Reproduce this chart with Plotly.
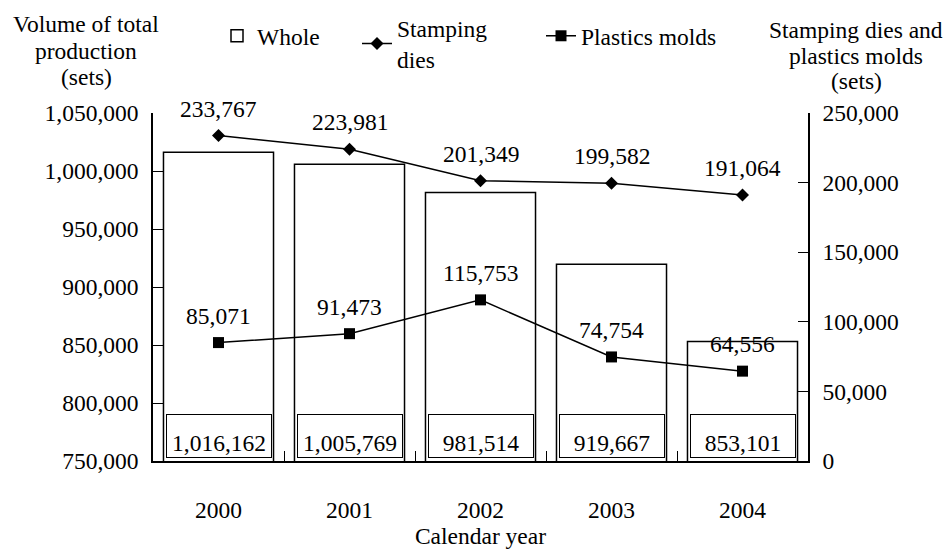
import plotly.graph_objects as go

years = ["2000", "2001", "2002", "2003", "2004"]
whole = [1016162, 1005769, 981514, 919667, 853101]
stamping = [233767, 223981, 201349, 199582, 191064]
plastics = [85071, 91473, 115753, 74754, 64556]

FONT = "Liberation Serif, Times New Roman, serif"
FS = 23.5
TXT = dict(family=FONT, size=FS, color="black")

W, H = 948, 549
ML, MR, MT, MB = 153, 140, 113, 88


def fmt(v):
    return f"{v:,}"


def px_to_paper(xp, yp):
    """Pixel position on the page -> paper coordinates of the plot area."""
    return (xp - ML) / (W - ML - MR), (H - MB - yp) / (H - MT - MB)


fig = go.Figure()

fig.add_trace(go.Bar(
    x=years, y=whole, name="Whole", legend="legend",
    marker=dict(color="white", line=dict(color="black", width=1.5)),
    width=0.84, yaxis="y",
))

fig.add_trace(go.Scatter(
    x=years, y=stamping, name="Stamping<br>dies", yaxis="y2",
    legend="legend2", mode="lines+markers",
    line=dict(color="black", width=1.5),
    marker=dict(symbol="diamond", size=10, color="black"),
))

fig.add_trace(go.Scatter(
    x=years, y=plastics, name="Plastics molds", yaxis="y2",
    legend="legend3", mode="lines+markers",
    line=dict(color="black", width=1.5),
    marker=dict(symbol="square", size=11, color="black"),
))

# value labels above the line markers
for series in (stamping, plastics):
    for i, v in enumerate(series):
        fig.add_annotation(
            x=i, y=v, xref="x", yref="y2", yshift=27,
            text=fmt(v), showarrow=False, font=TXT,
        )

# boxed value labels at the foot of each bar (x given as category index)
for i, v in enumerate(whole):
    fig.add_annotation(
        x=i, y=750000, xref="x", yref="y", yanchor="bottom",
        text=fmt(v), showarrow=False, width=102, height=40,
        valign="bottom", bordercolor="black", borderwidth=1,
        bgcolor="white", yshift=3, font=TXT,
    )

# axis titles, one line per annotation for tight line spacing
left_title = ["Volume of total", "production", "(sets)"]
right_title = ["Stamping dies and", "plastics molds", "(sets)"]
for k, line in enumerate(left_title):
    ax, ay = px_to_paper(86, 24 + 26.5 * k)
    fig.add_annotation(
        x=ax, y=ay, xref="paper", yref="paper",
        xanchor="center", yanchor="middle", showarrow=False,
        text=line, font=TXT,
    )
for k, line in enumerate(right_title):
    ax, ay = px_to_paper(856, 30 + 25.5 * k)
    fig.add_annotation(
        x=ax, y=ay, xref="paper", yref="paper",
        xanchor="center", yanchor="middle", showarrow=False,
        text=line, font=TXT,
    )

legend_common = dict(
    orientation="h", xref="container", yref="container",
    xanchor="left", yanchor="middle", font=TXT,
    bgcolor="rgba(0,0,0,0)", borderwidth=0,
)

fig.update_layout(
    width=W, height=H,
    margin=dict(l=ML, r=MR, t=MT, b=MB, autoexpand=False),
    paper_bgcolor="white", plot_bgcolor="white",
    font=TXT,
    showlegend=True,
    legend=dict(x=217 / W, y=1 - 36 / H, **legend_common),
    legend2=dict(x=357 / W, y=1 - 44 / H, valign="middle", **legend_common),
    legend3=dict(x=541 / W, y=1 - 36 / H, **legend_common),
    xaxis=dict(
        type="category", range=[-0.5, 4.5], automargin=False,
        showline=True, linecolor="black", linewidth=1.5,
        ticks="inside", tickson="boundaries", ticklen=10, tickcolor="black",
        tickfont=TXT, tickangle=0, ticklabelstandoff=27,
        title=dict(text="Calendar year", standoff=9, font=TXT),
        showgrid=False, zeroline=False,
    ),
    yaxis=dict(
        range=[750000, 1050000], tickvals=list(range(750000, 1050001, 50000)),
        tickformat=",d", tickfont=TXT, automargin=False,
        showline=True, linecolor="black", linewidth=1.5,
        ticks="inside", ticklen=10, tickcolor="black",
        showgrid=False, zeroline=False, ticklabelstandoff=8,
    ),
    yaxis2=dict(
        overlaying="y", side="right", range=[0, 250000],
        tickvals=list(range(0, 250001, 50000)), tickformat=",d",
        tickfont=TXT, automargin=False,
        showline=True, linecolor="black", linewidth=1.5,
        ticks="inside", ticklen=10, tickcolor="black",
        showgrid=False, zeroline=False, ticklabelstandoff=8,
    ),
)

fig.write_html("out.html")
